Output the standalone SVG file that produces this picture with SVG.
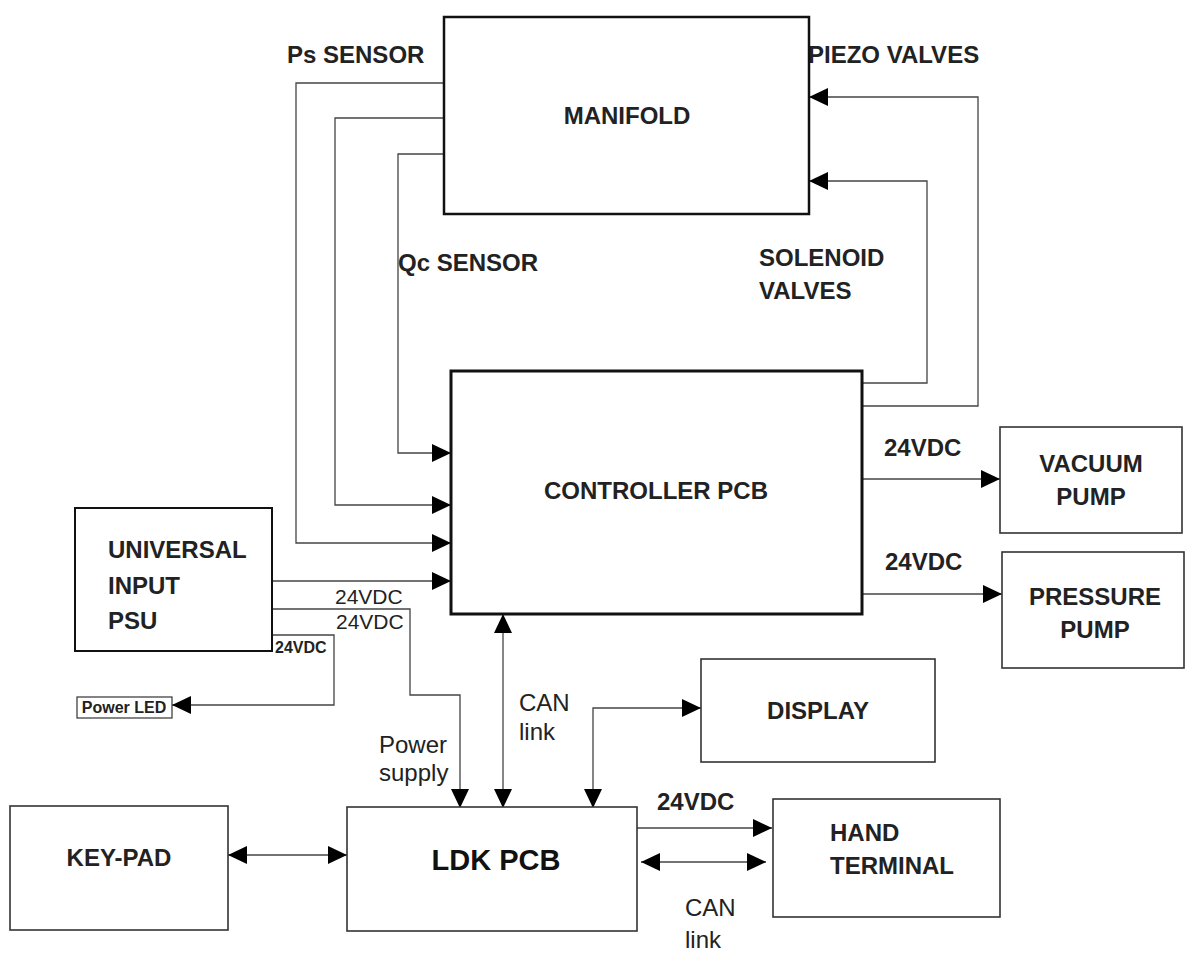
<svg xmlns="http://www.w3.org/2000/svg" width="1189" height="971" viewBox="0 0 1189 971">
<style>
.box{fill:#fff;stroke:#333;stroke-width:1.6}
.thick{fill:#fff;stroke:#111;stroke-width:3}
.ln{fill:none;stroke:#444;stroke-width:1.3}
.lb{font-family:"Liberation Sans",Arial,sans-serif;font-weight:bold;font-size:24px;fill:#222}
.ln2{font-family:"Liberation Sans",Arial,sans-serif;font-size:24px;fill:#222}
.v{font-family:"Liberation Sans",Arial,sans-serif;font-size:21px;fill:#222}
.sm{font-family:"Liberation Sans",Arial,sans-serif;font-weight:bold;font-size:16px;fill:#222}
.big{font-family:"Liberation Sans",Arial,sans-serif;font-weight:bold;font-size:29px;fill:#111}
</style>
<defs>
<marker id="ae" markerUnits="userSpaceOnUse" markerWidth="20" markerHeight="20" refX="19" refY="9" orient="auto"><path d="M0,0 L19,9 L0,18 Z" fill="#000"/></marker>
<marker id="as" markerUnits="userSpaceOnUse" markerWidth="20" markerHeight="20" refX="0" refY="9" orient="auto"><path d="M19,0 L0,9 L19,18 Z" fill="#000"/></marker>
</defs>
<rect width="1189" height="971" fill="#fff"/>
<g id="connectors">
<path class="ln" d="M444,83 H296 V543 H451" marker-end="url(#ae)"/>
<path class="ln" d="M444,118 H335 V505 H451" marker-end="url(#ae)"/>
<path class="ln" d="M444,154 H398 V453 H451" marker-end="url(#ae)"/>
<path class="ln" d="M862,406 H978 V97 H809" marker-end="url(#ae)"/>
<path class="ln" d="M862,383 H927 V181 H809" marker-end="url(#ae)"/>
<path class="ln" d="M272,581 H451" marker-end="url(#ae)"/>
<path class="ln" d="M272,609 H410 V695 H460 V808" marker-end="url(#ae)"/>
<path class="ln" d="M272,635 H334 V705 H172" marker-end="url(#ae)"/>
<path class="ln" d="M503,614 V808" marker-start="url(#as)" marker-end="url(#ae)"/>
<path class="ln" d="M593,808 V708 H701" marker-start="url(#as)" marker-end="url(#ae)"/>
<path class="ln" d="M228,855 H347" marker-start="url(#as)" marker-end="url(#ae)"/>
<path class="ln" d="M637,828 H772" marker-end="url(#ae)"/>
<path class="ln" d="M641,862 H766" marker-start="url(#as)" marker-end="url(#ae)"/>
<path class="ln" d="M862,479 H1000" marker-end="url(#ae)"/>
<path class="ln" d="M862,594 H1002" marker-end="url(#ae)"/>
<text class="lb" x="287" y="63">Ps SENSOR</text>
<text class="lb" x="808" y="63">PIEZO VALVES</text>
<text class="lb" x="398" y="271">Qc SENSOR</text>
<text class="lb" x="759" y="266">SOLENOID</text>
<text class="lb" x="759" y="299">VALVES</text>
<text class="lb" x="884" y="456">24VDC</text>
<text class="lb" x="885" y="570">24VDC</text>
<text class="v" x="335" y="604">24VDC</text>
<text class="v" x="336" y="629">24VDC</text>
<text class="sm" x="275" y="653">24VDC</text>
<text class="ln2" x="379" y="753">Power</text>
<text class="ln2" x="379" y="781">supply</text>
<text class="ln2" x="519" y="711">CAN</text>
<text class="ln2" x="519" y="740">link</text>
<text class="lb" x="657" y="810">24VDC</text>
<text class="ln2" x="685" y="916">CAN</text>
<text class="ln2" x="685" y="948">link</text>
</g>
<g id="manifold"><rect class="thick" x="444" y="17" width="365" height="197" style="stroke-width:2.5"/><text class="lb" x="627" y="124" text-anchor="middle">MANIFOLD</text></g>
<g id="controller"><rect class="thick" x="451" y="371" width="411" height="243"/><text class="lb" x="656" y="499" text-anchor="middle">CONTROLLER PCB</text></g>
<g id="vacuum"><rect class="box" x="1000" y="427" width="182" height="106"/><text class="lb" x="1091" y="472" text-anchor="middle">VACUUM</text><text class="lb" x="1091" y="505" text-anchor="middle">PUMP</text></g>
<g id="pressure"><rect class="box" x="1002" y="552" width="182" height="116"/><text class="lb" x="1095" y="605" text-anchor="middle">PRESSURE</text><text class="lb" x="1095" y="638" text-anchor="middle">PUMP</text></g>
<g id="psu"><rect class="thick" x="75" y="508" width="197" height="143" style="stroke-width:2"/><text class="lb" x="108" y="558">UNIVERSAL</text><text class="lb" x="108" y="594">INPUT</text><text class="lb" x="108" y="629">PSU</text></g>
<g id="powerled"><rect class="box" x="77" y="697" width="95" height="21" style="stroke-width:1.2"/><text class="sm" x="124" y="713" text-anchor="middle">Power LED</text></g>
<g id="display"><rect class="box" x="701" y="659" width="234" height="103"/><text class="lb" x="818" y="719" text-anchor="middle">DISPLAY</text></g>
<g id="ldk"><rect class="box" x="347" y="807" width="290" height="124"/><text class="big" x="496" y="870" text-anchor="middle">LDK PCB</text></g>
<g id="keypad"><rect class="box" x="10" y="806" width="218" height="124"/><text class="lb" x="119" y="866" text-anchor="middle">KEY-PAD</text></g>
<g id="hand"><rect class="box" x="773" y="799" width="227" height="118"/><text class="lb" x="830" y="841">HAND</text><text class="lb" x="830" y="874">TERMINAL</text></g>
</svg>
